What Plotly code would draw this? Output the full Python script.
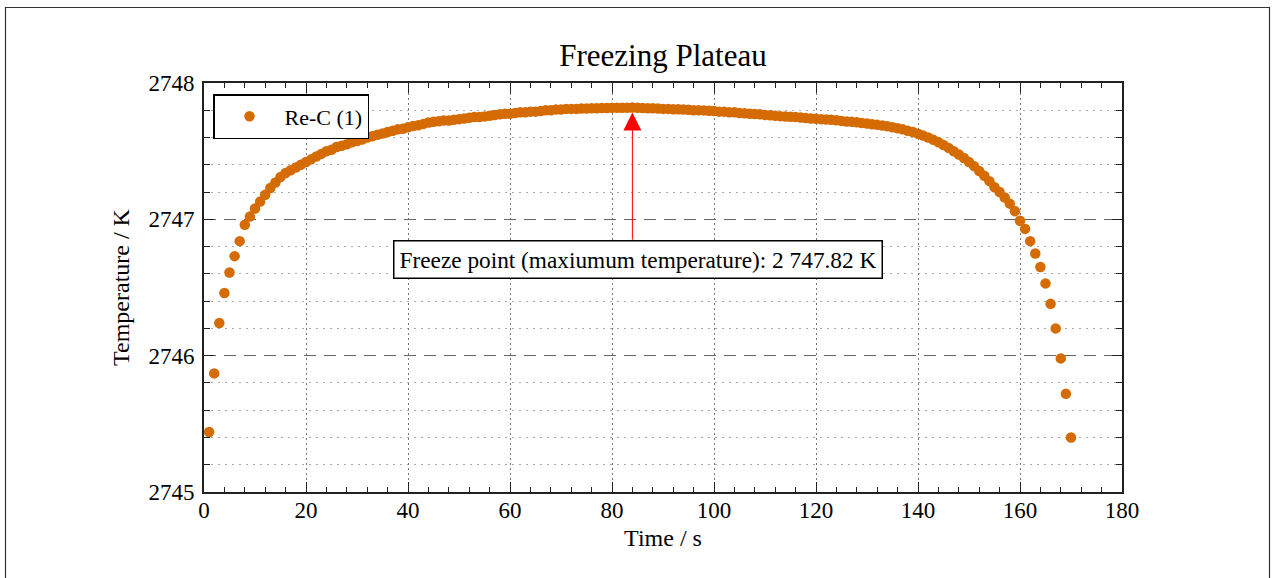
import plotly.graph_objects as go

# Freezing plateau of a Re-C fixed-point cell: one reading per second
time_s = list(range(1, 171))

temperature_K = [
    2745.44, 2745.87, 2746.24, 2746.46, 2746.61, 2746.73, 2746.84, 2746.96, 2747.02, 2747.08,
    2747.13, 2747.18, 2747.23, 2747.27, 2747.31, 2747.34, 2747.36, 2747.38, 2747.40, 2747.42,
    2747.44, 2747.46, 2747.48, 2747.50, 2747.51, 2747.53, 2747.54, 2747.55, 2747.565, 2747.575,
    2747.585, 2747.60, 2747.61, 2747.62, 2747.63, 2747.64, 2747.65, 2747.66, 2747.665, 2747.675,
    2747.685, 2747.69, 2747.70, 2747.71, 2747.715, 2747.72, 2747.725, 2747.725, 2747.73, 2747.735,
    2747.74, 2747.745, 2747.75, 2747.75, 2747.755, 2747.76, 2747.765, 2747.77, 2747.775, 2747.775,
    2747.78, 2747.785, 2747.785, 2747.79, 2747.79, 2747.795, 2747.80, 2747.80, 2747.805, 2747.805,
    2747.81, 2747.81, 2747.81, 2747.813, 2747.813, 2747.815, 2747.815, 2747.817, 2747.817, 2747.818,
    2747.818, 2747.818, 2747.819, 2747.82, 2747.818, 2747.817, 2747.815, 2747.815, 2747.813, 2747.81,
    2747.81, 2747.808, 2747.807, 2747.805, 2747.804, 2747.80, 2747.80, 2747.799, 2747.797, 2747.795,
    2747.79, 2747.79, 2747.785, 2747.785, 2747.78, 2747.778, 2747.775, 2747.772, 2747.77, 2747.766,
    2747.763, 2747.76, 2747.757, 2747.754, 2747.752, 2747.75, 2747.747, 2747.743, 2747.74, 2747.737,
    2747.735, 2747.732, 2747.73, 2747.727, 2747.722, 2747.718, 2747.715, 2747.712, 2747.707, 2747.703,
    2747.698, 2747.693, 2747.688, 2747.682, 2747.675, 2747.668, 2747.66, 2747.65, 2747.64, 2747.628,
    2747.614, 2747.60, 2747.583, 2747.565, 2747.545, 2747.524, 2747.50, 2747.476, 2747.45, 2747.42,
    2747.39, 2747.355, 2747.32, 2747.28, 2747.235, 2747.20, 2747.16, 2747.115, 2747.06, 2746.99,
    2746.93, 2746.84, 2746.75, 2746.65, 2746.53, 2746.38, 2746.20, 2745.98, 2745.72, 2745.40,
]

series_name = "Re-C (1)"
freeze_time = time_s[temperature_K.index(max(temperature_K))]
freeze_temp = max(temperature_K)
freeze_label = "Freeze point (maxiumum temperature): 2 747.82 K"

SERIF = "Liberation Serif, Times New Roman, serif"
ORANGE = "#D56B03"
AXIS = "#222222"

fig = go.Figure()
fig.add_trace(go.Scatter(
    x=time_s, y=temperature_K, mode="markers", name=series_name,
    marker=dict(color=ORANGE, size=10.5, line=dict(width=0)),
    showlegend=True,
))

common_axis = dict(
    showline=True, linewidth=2, linecolor=AXIS, mirror="allticks",
    ticks="inside", tickcolor=AXIS, tickwidth=1.3, ticklen=10,
    tickfont=dict(family=SERIF, size=23, color="black"),
    zeroline=False,
)

fig.update_layout(
    width=1272, height=578, autosize=False,
    margin=dict(l=204, r=150, t=83, b=86),
    paper_bgcolor="white", plot_bgcolor="white",
    font=dict(family=SERIF, color="black"),
    title=dict(text="Freezing Plateau", font=dict(family=SERIF, size=31, color="black"),
               x=0.5, xref="paper", xanchor="center",
               y=1 - 55 / 578, yref="container", yanchor="middle"),
    xaxis=dict(
        range=[0, 180], tick0=0, dtick=20, **common_axis,
        showgrid=True, gridcolor="#777777", gridwidth=1, griddash="2px,3px",
        minor=dict(dtick=4, ticks="inside", ticklen=5, tickwidth=1, tickcolor=AXIS, showgrid=False),
        title=dict(text="Time / s", font=dict(family=SERIF, size=24, color="black"), standoff=8),
        ticklabelstandoff=-4,
    ),
    yaxis=dict(
        range=[2745, 2748], tick0=2745, dtick=1, tickformat="d", **common_axis,
        showgrid=True, gridcolor="#666666", gridwidth=1.2, griddash="12px,8px",
        minor=dict(dtick=0.2, ticks="inside", ticklen=6, tickwidth=1, tickcolor=AXIS,
                   showgrid=True, gridcolor="#AAAAAA", gridwidth=1, griddash="2px,5px"),
        title=dict(text="Temperature / K", font=dict(family=SERIF, size=24, color="black"), standoff=12),
        ticklabelstandoff=3,
    ),
    legend=dict(
        x=(213 - 204) / 918, y=(492 - 94) / 409, xanchor="left", yanchor="top",
        bgcolor="white", bordercolor="black", borderwidth=1.5,
        font=dict(family=SERIF, size=22, color="black"),
        itemwidth=60,
    ),
)

# arrow pointing at the plateau maximum
fig.add_annotation(
    x=freeze_time, y=freeze_temp, xref="x", yref="y",
    ax=freeze_time, ay=2746.84, axref="x", ayref="y",
    text="", showarrow=True, arrowhead=2, arrowsize=3.6, arrowwidth=1,
    arrowcolor="#FF0000", standoff=5,
)
# boxed label below the arrow
fig.add_annotation(
    x=85, y=2746.706, xref="x", yref="y", showarrow=False,
    text=freeze_label, font=dict(family=SERIF, size=23.3, color="black"),
    bgcolor="white", bordercolor="black", borderwidth=1.5, borderpad=5,
    xanchor="center", yanchor="middle",
)

# thin frame around the whole figure
fig.add_shape(
    type="rect", xref="paper", yref="paper",
    x0=(5.5 - 204) / 918, x1=(1269.5 - 204) / 918,
    y0=(492 - 600) / 409, y1=(492 - 7.5) / 409,
    line=dict(color="#333333", width=1.2), fillcolor="rgba(0,0,0,0)", layer="below",
)

fig.write_html("out.html")
